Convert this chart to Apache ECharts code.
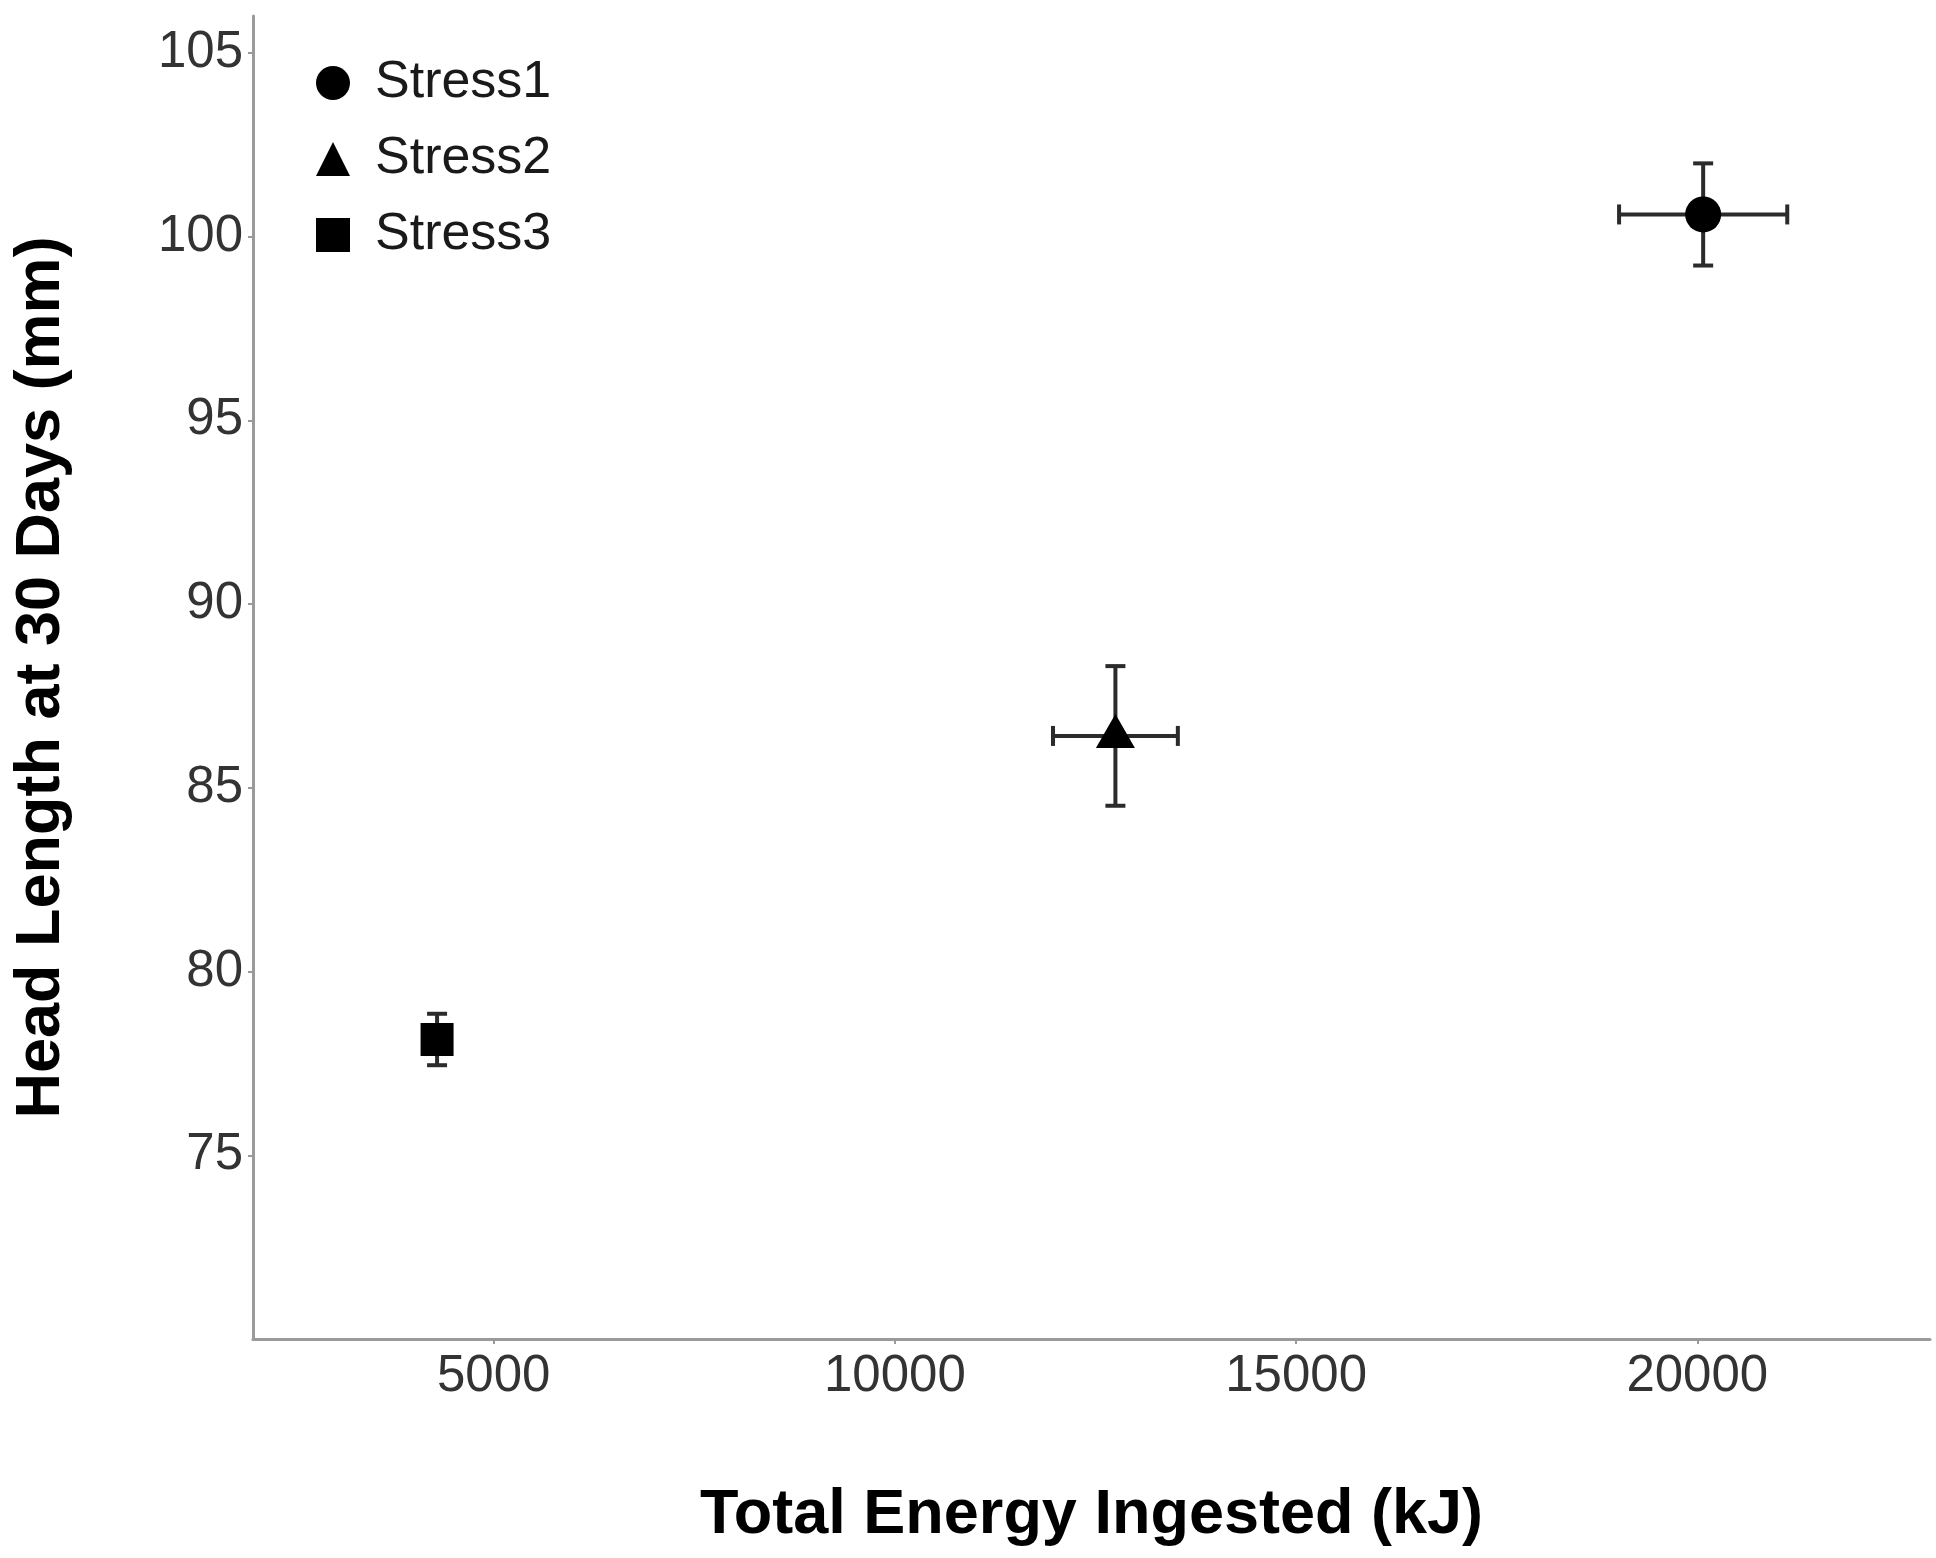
<!DOCTYPE html>
<html>
<head>
<meta charset="utf-8">
<script src="https://cdn.jsdelivr.net/npm/echarts@6/dist/echarts.min.js"></script>
<style>
	html, body { margin: 0; padding: 0; background: #fff; }
	#chart { width: 1936px; height: 1558px; }
</style>
</head>
<body>
<div id="chart"></div>
<script>
// groups and values
var groups = ['Stress1', 'Stress2', 'Stress3'];
var groupSymbols = ['circle', 'triangle', 'rect'];
var energy = [20073, 12748, 4294];       // kJ
var energyErr = [1048, 778, 150];
var headLen = [100.6, 86.41, 78.15];     // mm
var headErr = [1.39, 1.9, 0.70];
var xTicks = [5000, 10000, 15000, 20000];
var yTicks = [75, 80, 85, 90, 95, 100, 105];

var chart = echarts.init(document.getElementById('chart'));

var inkColor = '#000';
var barColor = '#2b2b2b';
var capHalf = 10;

function errorBars(params, api) {
	var x = api.value(0), y = api.value(1);
	var ex = api.value(2), ey = api.value(3);
	var left = api.coord([x - ex, y]);
	var right = api.coord([x + ex, y]);
	var top = api.coord([x, y + ey]);
	var bottom = api.coord([x, y - ey]);
	var style = { stroke: barColor, lineWidth: 4 };
	return {
		type: 'group',
		children: [
			{ type: 'line', shape: { x1: left[0], y1: left[1], x2: right[0], y2: right[1] }, style: style },
			{ type: 'line', shape: { x1: left[0], y1: left[1] - capHalf, x2: left[0], y2: left[1] + capHalf }, style: style },
			{ type: 'line', shape: { x1: right[0], y1: right[1] - capHalf, x2: right[0], y2: right[1] + capHalf }, style: style },
			{ type: 'line', shape: { x1: top[0], y1: top[1], x2: bottom[0], y2: bottom[1] }, style: style },
			{ type: 'line', shape: { x1: top[0] - capHalf, y1: top[1], x2: top[0] + capHalf, y2: top[1] }, style: style },
			{ type: 'line', shape: { x1: bottom[0] - capHalf, y1: bottom[1], x2: bottom[0] + capHalf, y2: bottom[1] }, style: style }
		]
	};
}

var errData = [];
for (var i = 0; i < groups.length; i++) {
	errData.push([energy[i], headLen[i], energyErr[i], headErr[i]]);
}

var symbolSizes = [36, [39, 34], 33];
var symbolOffsets = [[0, 0], [0, -5], [0, 0]];

var series = [{
	name: 'errorbars',
	type: 'custom',
	renderItem: errorBars,
	data: errData,
	z: 1,
	silent: true
}];
for (var j = 0; j < groups.length; j++) {
	series.push({
		name: groups[j],
		type: 'scatter',
		symbol: groupSymbols[j],
		symbolSize: symbolSizes[j],
		symbolOffset: symbolOffsets[j],
		itemStyle: { color: inkColor, opacity: 1 },
		data: [[energy[j], headLen[j]]],
		z: 3
	});
}

var axisGray = '#9a9a9a';
var tickText = '#333';

var option = {
	animation: false,
	backgroundColor: '#fff',
	textStyle: { fontFamily: 'Liberation Sans, Arial, sans-serif' },
	grid: { left: 253, right: 6, top: 16, bottom: 219 },
	legend: {
		orient: 'vertical',
		left: 311,
		top: 52,
		itemWidth: 34,
		itemHeight: 34,
		itemGap: 24,
		data: groups.map(function(g, k) {
			return { name: g, icon: groupSymbols[k] };
		}),
		itemStyle: { color: inkColor },
		textStyle: { fontSize: 52, color: '#1a1a1a', padding: [0, 0, 0, 20] }
	},
	xAxis: {
		type: 'value',
		min: 2000,
		max: 22900,
		name: 'Total Energy Ingested (kJ)',
		nameLocation: 'middle',
		nameGap: 145,
		nameTextStyle: { fontSize: 63, fontWeight: 'bold', color: '#000' },
		splitLine: { show: false },
		axisLine: { lineStyle: { color: axisGray, width: 3 } },
		axisTick: { customValues: xTicks, length: 5, lineStyle: { color: axisGray, width: 2 } },
		axisLabel: {
			customValues: xTicks, fontSize: 51, color: tickText, margin: 12,
			formatter: function(v) { return String(v); }
		}
	},
	yAxis: {
		type: 'value',
		min: 70,
		max: 106,
		name: 'Head Length at 30 Days (mm)',
		nameLocation: 'middle',
		nameGap: 180,
		nameTextStyle: { fontSize: 63, fontWeight: 'bold', color: '#000' },
		splitLine: { show: false },
		axisLine: { lineStyle: { color: axisGray, width: 3 } },
		axisTick: { customValues: yTicks, length: 5, lineStyle: { color: axisGray, width: 2 } },
		axisLabel: { customValues: yTicks, fontSize: 51, color: tickText, margin: 10 }
	},
	series: series
};

chart.setOption(option);
</script>
</body>
</html>
